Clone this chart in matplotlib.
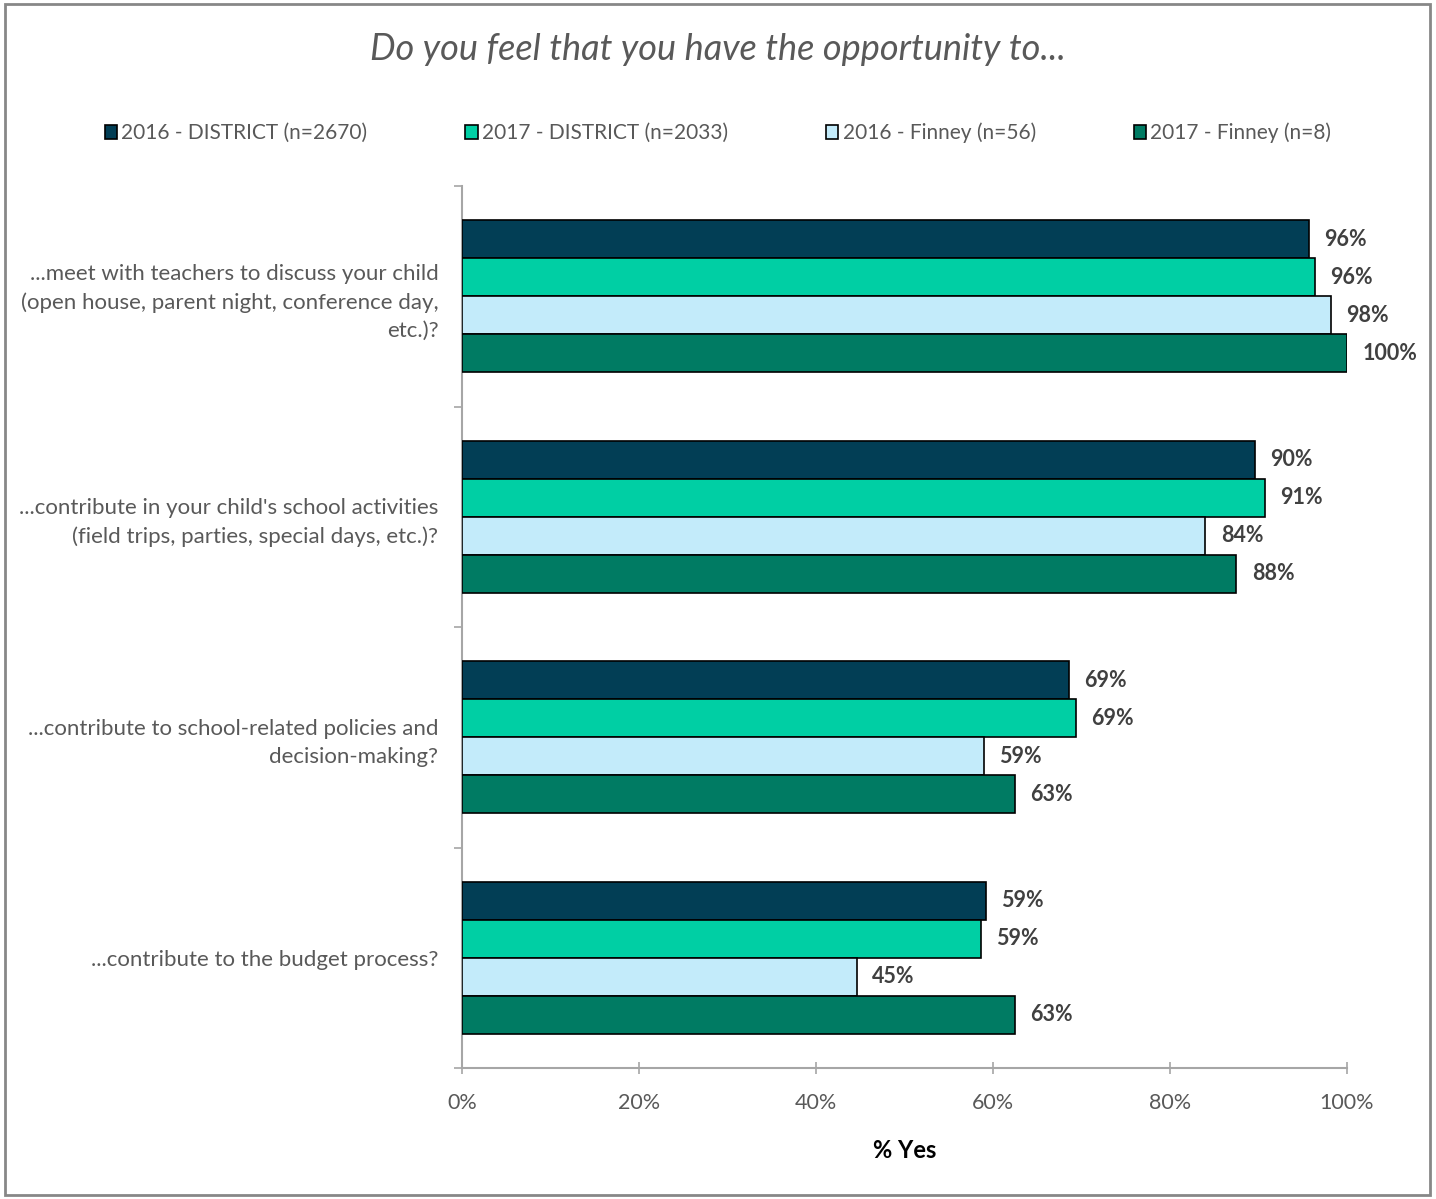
import matplotlib
matplotlib.use("Agg")
import matplotlib.pyplot as plt
from matplotlib.patches import Patch, Rectangle
import numpy as np

plt.rcParams['font.family'] = ['Lato', 'DejaVu Sans']

categories = [
    "...meet with teachers to discuss your child\n(open house, parent night, conference day,\netc.)?",
    "...contribute in your child's school activities\n(field trips, parties, special days, etc.)?",
    "...contribute to school-related policies and\ndecision-making?",
    "...contribute to the budget process?",
]
series_names = ["2016 - DISTRICT (n=2670)", "2017 - DISTRICT (n=2033)",
                "2016 - Finney (n=56)", "2017 - Finney (n=8)"]
dist_2016 = [95.7, 89.6, 68.6, 59.2]
dist_2017 = [96.4, 90.7, 69.4, 58.6]
finney_2016 = [98.2, 84.0, 59.0, 44.6]
finney_2017 = [100.0, 87.5, 62.5, 62.5]
labels_2016d = ["96%", "90%", "69%", "59%"]
labels_2017d = ["96%", "91%", "69%", "59%"]
labels_2016f = ["98%", "84%", "59%", "45%"]
labels_2017f = ["100%", "88%", "63%", "63%"]
xticks = [0, 20, 40, 60, 80, 100]
xticklabels = ["0%", "20%", "40%", "60%", "80%", "100%"]

series = [dist_2016, dist_2017, finney_2016, finney_2017]
series_labels = [labels_2016d, labels_2017d, labels_2016f, labels_2017f]
colors = ["#023E55", "#00CFA4", "#C3EBFA", "#007B63"]

gray = "#595959"
fig = plt.figure(figsize=(14.36, 11.99), dpi=100)
ax = fig.add_axes([462/1436, 1-1068/1199, 885/1436, 882/1199])

h = 0.1723
n = len(categories)
centers = np.arange(n) + 0.5
for k, (vals, labs, c) in enumerate(zip(series, series_labels, colors)):
    ys = centers + (k - 1.5) * h
    ax.barh(ys, vals, height=h, color=c, edgecolor="black", linewidth=1.2, zorder=3)
    for y, v, lab in zip(ys, vals, labs):
        ax.annotate(lab, (v, y), xytext=(11, 0), textcoords="offset points",
                    ha="left", va="center", fontsize=15.5, fontweight="bold", color="#404040")

ax.set_xlim(0, 100)
ax.set_ylim(n, 0)
for s in ["top", "right"]:
    ax.spines[s].set_visible(False)
for s in ["left", "bottom"]:
    ax.spines[s].set_color("#A6A6A6")
    ax.spines[s].set_linewidth(1.5)

ax.set_xticks(xticks)
ax.set_xticklabels(xticklabels)
ax.tick_params(axis="x", direction="inout", length=8, width=1.2, color="#A6A6A6",
               labelsize=15.5, labelcolor=gray, pad=14)
ax.set_yticks(np.arange(n + 1))
ax.set_yticklabels([])
ax.tick_params(axis="y", which="major", direction="out", length=6, width=1.2, color="#A6A6A6")
ax.set_yticks(centers, minor=True)
ax.set_yticklabels(categories, minor=True, fontsize=16, color=gray, ha="right",
                   linespacing=1.5)
ax.tick_params(axis="y", which="minor", length=0, pad=17)

ax.set_xlabel("% Yes", fontsize=17, fontweight="bold", color="black", labelpad=19)

fig.text(0.5, 1 - 50/1199, "Do you feel that you have the opportunity to...",
         ha="center", va="center", fontsize=26, style="italic", color=gray)

handles = [Patch(facecolor=c, edgecolor="black", linewidth=1.2) for c in colors]
leg = fig.legend(handles, series_names, loc="center", bbox_to_anchor=(0.5, 1 - 133/1199),
                 ncol=4, frameon=False, fontsize=15, handlelength=0.6, handleheight=0.6,
                 handletextpad=0.2, columnspacing=4.7)
for t in leg.get_texts():
    t.set_color(gray)

fig.patches.append(Rectangle((5/1436, 1 - 1195/1199), 1425/1436, 1191/1199,
                             transform=fig.transFigure, fill=False,
                             edgecolor="#878787", linewidth=2))

fig.savefig("out.png", dpi=100)
